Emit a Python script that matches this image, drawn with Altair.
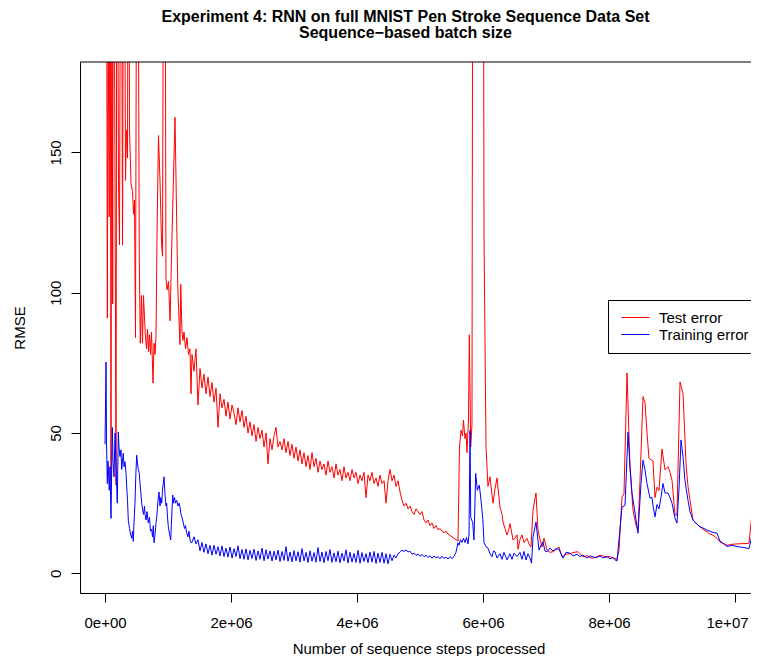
import altair as alt
import pandas as pd

TITLE = ["Experiment 4: RNN on full MNIST Pen Stroke Sequence Data Set",
         "Sequence\u2212based batch size"]
X_TITLE = "Number of sequence steps processed"
Y_TITLE = "RMSE"
SERIES = ["Test error", "Training error"]
COLORS = ["#FF0000", "#0000FF"]
X_TICKS = [0, 2000000, 4000000, 6000000, 8000000, 10000000]
X_TICK_LABELS = ["0e+00", "2e+06", "4e+06", "6e+06", "8e+06", "1e+07"]
Y_TICKS = [0, 50, 100, 150]

# ---- data (steps in thousands) ----
red_start_k = [8, 24, 37, 48, 59, 67, 79, 95, 111, 122, 135, 175, 190, 214, 230, 254, 278, 302, 325, 341,
               357, 373, 389, 402, 413, 437, 452, 468, 484, 508, 524, 544, 560, 579, 595, 611, 627, 643, 659, 675,
               690, 706, 722, 738, 762, 778, 794, 810, 825, 849, 873, 897, 913, 929, 952, 968, 984, 1008, 1032, 1063,
               1111, 1154, 1190, 1202, 1222, 1238, 1254, 1278, 1302, 1325, 1349, 1365]
red_start_rmse = [300, 250, 91, 200, 160, 127, 300, 33, 260, 96, 300, 31.5, 300, 140, 117, 300, 117, 300, 140, 158,
                  148, 300, 158, 148, 139, 136, 128, 133, 84, 300, 250, 111.6, 82, 99, 82, 99, 91, 84, 80, 87,
                  79, 85, 78, 86, 67.8, 82, 78, 85, 120, 156, 140, 118, 113, 250, 250, 105, 101, 104, 90, 120,
                  162.5, 103, 81.5, 103, 86, 83, 86, 80, 84, 78, 80, 64]

blue_start_k = [0, 8, 16, 24, 37, 48, 68, 79, 95, 116, 127, 143, 159, 175, 195, 211, 222, 238, 254, 265,
                278, 290, 302, 317, 333, 344, 357, 370, 389, 405, 424, 437, 449, 460, 476, 489, 503, 516, 529, 544,
                563, 583, 595, 611, 627, 635, 651, 667, 687, 706, 722, 741, 754, 767, 778, 794, 810, 821, 841, 857,
                873, 886, 900, 913, 925, 937, 952, 968, 979, 992, 1005, 1024, 1043, 1056, 1075, 1087, 1103, 1119, 1138, 1159,
                1175, 1190, 1206, 1222, 1243, 1262, 1278, 1297, 1317, 1333, 1349, 1365]
blue_start_rmse = [46, 59, 75.3, 46.4, 32, 40, 29.6, 38, 19.6, 52, 40, 34.4, 50, 38, 25, 50.4, 45, 41.6, 44, 37,
                   40, 42.8, 38, 39.8, 36, 31, 26, 18.8, 16, 14, 12.5, 15, 11.4, 18, 25, 35, 42.1, 39, 37, 35.6,
                   30, 25, 23, 21, 24, 21, 19, 22, 18, 20, 15, 15.7, 13, 17, 10.9, 14, 18, 20, 26, 29,
                   24, 27, 25, 30, 32, 34.4, 28, 24, 25, 20, 16.6, 14, 11.9, 19, 27.9, 25, 27, 25, 26, 24,
                   25, 23.6, 21, 20, 18, 16, 17, 14.3, 13, 15, 12, 10.9]

mid_k = [1381, 1413, 1444, 1476, 1508, 1540, 1571, 1603, 1635, 1667,
         1698, 1730, 1762, 1794, 1825, 1857, 1889, 1921, 1952, 1984,
         2016, 2048, 2079, 2111, 2143, 2175, 2206, 2238, 2270, 2302,
         2333, 2365, 2397, 2429, 2460, 2492, 2524, 2556, 2587, 2619,
         2651, 2683, 2714, 2746, 2778, 2810, 2841, 2873, 2905, 2937,
         2968, 3000, 3032, 3064, 3095, 3127, 3159, 3191, 3222, 3254,
         3286, 3318, 3349, 3381, 3413, 3444, 3476, 3508, 3540, 3571,
         3603, 3635, 3667, 3698, 3730, 3762, 3794, 3825, 3857, 3889,
         3921, 3952, 3984, 4016, 4048, 4079, 4111, 4143, 4175, 4206,
         4238, 4270, 4302, 4333, 4365, 4397, 4429, 4460, 4492, 4524,
         4556, 4587, 4619, 4651, 4683, 4714, 4746, 4778, 4810, 4841,
         4873, 4905, 4937, 4968, 5000, 5032, 5064, 5095, 5127, 5159,
         5191, 5222, 5254, 5286, 5317, 5349, 5381, 5413, 5444, 5476,
         5508, 5540, 5571, 5603]
red_mid_rmse = [78, 72, 80, 60, 73, 66, 71, 64, 70, 63,
                68, 61, 66, 52, 64, 59, 62, 56, 61, 55,
                60, 57, 53, 59, 54, 58, 52, 56, 50, 54,
                49, 53, 47, 52, 48, 51, 45, 50, 39, 48,
                44, 49, 52, 45, 47, 44, 48, 43, 47, 42,
                46, 41, 45, 40, 44, 39, 43, 38, 42, 37,
                43, 38, 41, 36, 40, 37, 39, 35, 40, 36,
                38, 34, 39, 35, 37, 33, 38, 34, 36, 33,
                37, 34, 36, 32, 35, 33, 36, 27, 35, 33,
                36, 32, 34, 31, 35, 32, 33, 25, 33, 37,
                33, 35, 31, 33, 29, 26, 24, 25, 23, 24,
                22, 21, 23, 22, 21, 22, 19, 18, 19, 17,
                18, 16, 17, 15.5, 16, 15, 14.5, 15, 14, 13.5,
                13, 12.5, 12, 11.5]
blue_mid_rmse = [11, 13, 10.5, 12, 8, 11, 7.5, 10.5, 7, 10,
                 6.5, 10, 6.8, 9.5, 6.2, 9.8, 6, 9, 5.8, 9.4,
                 5.5, 8.8, 6, 9.8, 5.2, 8.5, 5, 8.7, 4.8, 8.2,
                 5.3, 8.6, 4.6, 8, 5, 9, 4.5, 8.4, 5.1, 8,
                 4.4, 7.9, 4.8, 8.3, 4.2, 7.8, 4.6, 9.5, 4.3, 7.6,
                 4.1, 8.1, 4.5, 7.7, 4, 8.8, 4.4, 7.5, 3.9, 8,
                 4.3, 7.4, 4, 9.2, 4.2, 7.6, 3.8, 7.8, 4.5, 8.5,
                 3.9, 7.3, 4.1, 7.9, 3.8, 7.2, 4.4, 8.4, 3.7, 7.5,
                 4, 7.1, 3.9, 8.2, 3.6, 7.4, 4.2, 7, 3.8, 7.6,
                 4, 7.8, 3.5, 7.2, 3.9, 7.5, 3.6, 7, 3.4, 6.8,
                 4.5, 6.5, 5.5, 7, 7.5, 8.3, 7.8, 8.4, 7.6, 7.9,
                 6.8, 7.2, 6.4, 6.9, 6.1, 6.7, 5.9, 6.5, 5.6, 6.3,
                 5.4, 6.2, 5.5, 6, 5.2, 6.1, 5.3, 5.8, 5.1, 5.9,
                 5.3, 6, 7.5, 10.9]

red_end_k = [5627, 5651, 5675, 5690, 5714, 5730, 5746, 5770, 5783, 5805,
             5825, 5846, 5995, 6016, 6048, 6079, 6111, 6143, 6159, 6190,
             6222, 6254, 6270, 6302, 6317, 6349, 6381, 6413, 6429, 6460,
             6476, 6508, 6540, 6556, 6587, 6619, 6651, 6698, 6730, 6762,
             6794, 6841, 6873, 6905, 6937, 6968, 7016, 7063, 7111, 7159,
             7206, 7254, 7317, 7381, 7444, 7508, 7587, 7651, 7730, 7794,
             7857, 7937, 8016, 8079, 8127, 8159, 8206, 8238, 8286, 8333,
             8381, 8429, 8460, 8492, 8540, 8571, 8603, 8635, 8667, 8698,
             8730, 8762, 8794, 8841, 8889, 8937, 8968, 9000, 9048, 9079,
             9127, 9175, 9222, 9254, 9286, 9333, 9397, 9444, 9508, 9556,
             9603, 9651, 9714, 9762, 9825, 9873, 9921, 9968, 10048, 10127,
             10175, 10222, 10270, 10317, 10349, 10381]
red_end_rmse = [45, 51, 49, 54.6, 48, 50, 43, 55, 85, 45,
                53, 400, 400, 120, 45, 31, 34.4, 28, 25, 30,
                34, 27, 23.6, 21, 18.3, 16, 13.7, 16, 17.7, 14,
                11.9, 12.5, 13.7, 8.6, 12, 13.7, 11, 12.5, 10.5, 9.4,
                22.6, 28.6, 15.4, 12, 9.4, 12.5, 8.3, 7.5, 7.7, 8.5,
                9.4, 5.9, 6.8, 7, 7.5, 7.7, 5.9, 6.3, 5.3, 5.8,
                6.5, 6, 5.9, 5.5, 5, 8.3, 27.2, 28.4, 71.4, 38,
                22.6, 17, 15.4, 33, 63, 61, 50, 41, 40.5, 40,
                27, 30.7, 29.5, 44.3, 36.9, 38, 36, 33.2, 20.8, 20.8,
                68.2, 64, 39.2, 31, 26, 19, 17.5, 16.6, 15.5, 14.8,
                14, 13.6, 12.5, 11.2, 10.5, 10, 10.2, 10.4, 10.5, 10.6,
                10.6, 10.8, 21.5, 23.8, 23, 22.6]

blue_end_k = [5619, 5643, 5667, 5690, 5714, 5738, 5762, 5778, 5794, 5805,
              5837, 5857, 5884, 5910, 5941, 5963, 5995, 6016, 6048, 6079,
              6111, 6143, 6167, 6190, 6222, 6270, 6302, 6333, 6381, 6429,
              6460, 6492, 6540, 6587, 6619, 6651, 6683, 6714, 6746, 6770,
              6794, 6841, 6889, 6921, 6952, 6984, 7016, 7063, 7111, 7159,
              7206, 7238, 7270, 7317, 7381, 7429, 7492, 7540, 7587, 7651,
              7698, 7746, 7794, 7857, 7905, 7968, 8016, 8063, 8095, 8127,
              8159, 8206, 8254, 8302, 8333, 8365, 8413, 8460, 8508, 8540,
              8571, 8603, 8651, 8683, 8698, 8730, 8762, 8794, 8825, 8857,
              8889, 8937, 8968, 9000, 9048, 9079, 9111, 9143, 9175, 9206,
              9254, 9286, 9333, 9397, 9444, 9508, 9556, 9603, 9667, 9714,
              9762, 9825, 9873, 9921, 9968, 10032, 10079, 10143, 10222, 10254,
              10302, 10333, 10381]
blue_end_rmse = [10, 12, 11, 12.5, 11, 12.8, 10.5, 14, 51, 20,
                 18, 11.9, 35.6, 29.6, 31.4, 27.2, 20, 10.9, 9.5, 9,
                 7, 5.9, 8, 7.7, 5.5, 7, 5, 7.5, 4.8, 7,
                 5, 7.2, 6, 7.5, 5, 7.8, 4.8, 7, 5.5, 3.6,
                 13, 18.3, 8.3, 10, 11.2, 8, 7.7, 9, 8, 8.8,
                 8.6, 7, 5.4, 7.5, 7.2, 6.2, 6.8, 6, 6.5, 5.4,
                 6.2, 5.9, 5.6, 6.2, 5.5, 5.9, 5.2, 5.6, 4.8, 4.4,
                 12, 23.6, 24.2, 50.3, 38, 28.6, 21.5, 14.3, 32, 40.3,
                 37, 32, 26.8, 27, 24.2, 20.1, 24.5, 23, 27, 32,
                 28.6, 28.6, 27, 25, 19.6, 17.9, 30, 47.5, 41.5, 33,
                 26, 22, 19, 17.5, 16.6, 16, 15.4, 15, 14.5, 14.3,
                 11.5, 10.5, 9.6, 9.8, 10, 9.5, 9.4, 9.2, 8.8, 12,
                 19, 18.7, 18.8]


def frame(ks, vals, name):
    assert len(ks) == len(vals), (name, len(ks), len(vals))
    return pd.DataFrame({"steps": [k * 1000 for k in ks], "rmse": vals, "series": name})


test_df = pd.concat([frame(red_start_k, red_start_rmse, SERIES[0]),
                     frame(mid_k, red_mid_rmse, SERIES[0]),
                     frame(red_end_k, red_end_rmse, SERIES[0])], ignore_index=True)
train_df = pd.concat([frame(blue_start_k, blue_start_rmse, SERIES[1]),
                      frame(mid_k, blue_mid_rmse, SERIES[1]),
                      frame(blue_end_k, blue_end_rmse, SERIES[1])], ignore_index=True)

label_expr = "''"
for v, t in zip(reversed(X_TICKS), reversed(X_TICK_LABELS)):
    label_expr = f"datum.value == {v} ? '{t}' : ({label_expr})"

FONT = "Liberation Sans"

x_enc = alt.X("steps:Q",
              scale=alt.Scale(domain=[-397000, 10254000], nice=False, zero=False),
              axis=alt.Axis(values=X_TICKS, labelExpr=label_expr, title=X_TITLE, grid=False,
                            tickSize=9, labelPadding=25, labelBaseline="alphabetic",
                            labelOffset={"condition": {"test": f"datum.value == {X_TICKS[-1]}", "value": -8},
                                         "value": 0},
                            labelFontSize=15, titleFontSize=15, titleFontWeight="normal",
                            titleBaseline="alphabetic", titleY=60, titleX=338.5,
                            domainColor="black", tickColor="black", labelColor="black",
                            titleColor="black", labelFlush=False, labelOverlap=False))
y_enc = alt.Y("rmse:Q",
              scale=alt.Scale(domain=[-7.0, 182.2], nice=False, zero=False),
              axis=alt.Axis(values=Y_TICKS, title=Y_TITLE, grid=False, tickSize=9,
                            labelAngle=270, labelAlign="center", labelBaseline="alphabetic",
                            labelPadding=11, labelFontSize=15, titleFontSize=15,
                            titleFontWeight="normal", titleX=-56, titleY=265.5,
                            titleBaseline="alphabetic",
                            domainColor="black", tickColor="black", labelColor="black",
                            titleColor="black", labelFlush=False, labelOverlap=False))
color_enc = alt.Color("series:N",
                      scale=alt.Scale(domain=SERIES, range=COLORS),
                      legend=alt.Legend(orient="none", legendX=528, legendY=238, title=None,
                                        symbolType="M-2,0H2", symbolSize=196, symbolStrokeWidth=1,
                                        labelFontSize=15, labelOffset=16, symbolOffset=10,
                                        padding=10, strokeColor="black", fillColor="white",
                                        rowPadding=1, labelColor="black", labelLimit=300,
                                        cornerRadius=0))

test_line = alt.Chart(test_df).mark_line(strokeWidth=1, clip=True).encode(
    x=x_enc, y=y_enc, color=color_enc)
train_line = alt.Chart(train_df).mark_line(strokeWidth=1, clip=True).encode(
    x=x_enc, y=y_enc, color=color_enc)
top_edge = alt.Chart(pd.DataFrame({"edge": [0]})).mark_rule(color="black", strokeWidth=1).encode(
    y=alt.value(0))

chart = alt.layer(test_line, train_line, top_edge).properties(
    width=671, height=531,
    padding={"left": 72, "top": 54, "right": 0, "bottom": 63},
    autosize=alt.AutoSizeParams(type="none"),
    title=alt.TitleParams(text=TITLE, fontSize=16, fontWeight="bold", lineHeight=16,
                          anchor="middle", frame="group", dx=-10, offset=21,
                          color="black", font=FONT),
).configure(font=FONT).configure_view(stroke="transparent", strokeWidth=0)

chart.save("out.html", embed_options={"renderer": "svg", "actions": False})
